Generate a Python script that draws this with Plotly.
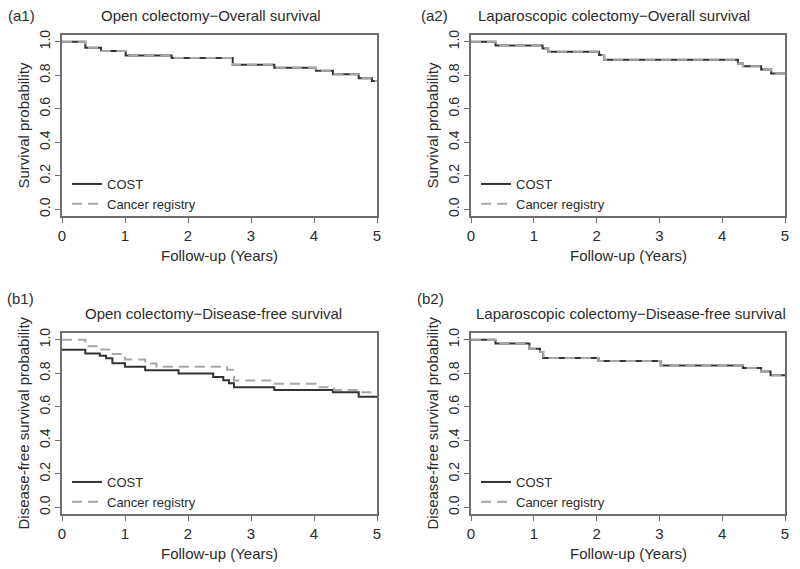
import plotly.graph_objects as go

# ---------------- data ----------------
x_ticks = [0, 1, 2, 3, 4, 5]
y_ticks = [0.0, 0.2, 0.4, 0.6, 0.8, 1.0]

# (a1) Open colectomy - Overall survival
a1_time = [0, 0.37, 0.62, 1.01, 1.74, 2.71, 3.37, 4.03, 4.30, 4.71, 4.92, 5.0]
a1_cost = [1.0, 0.964, 0.944, 0.918, 0.903, 0.862, 0.845, 0.827, 0.806, 0.782, 0.765, 0.765]
a1_registry = [1.0, 0.964, 0.944, 0.918, 0.903, 0.862, 0.845, 0.827, 0.806, 0.782, 0.765, 0.765]

# (a2) Laparoscopic colectomy - Overall survival
a2_time = [0, 0.39, 1.14, 1.23, 2.04, 2.12, 4.25, 4.33, 4.62, 4.78, 5.0]
a2_cost = [1.0, 0.977, 0.96, 0.94, 0.92, 0.893, 0.87, 0.853, 0.834, 0.81, 0.81]
a2_registry = [1.0, 0.977, 0.96, 0.94, 0.92, 0.893, 0.87, 0.853, 0.834, 0.81, 0.81]

# (b1) Open colectomy - Disease-free survival
b1_cost_time = [0, 0.37, 0.60, 0.70, 0.80, 1.00, 1.32, 1.85, 2.40, 2.56, 2.65, 2.73, 3.37, 4.30, 4.71, 5.0]
b1_cost = [0.94, 0.918, 0.905, 0.89, 0.86, 0.838, 0.818, 0.798, 0.778, 0.758, 0.74, 0.717, 0.70, 0.686, 0.66, 0.66]
b1_reg_time = [0, 0.37, 0.57, 0.78, 1.0, 1.32, 1.50, 2.62, 2.73, 3.37, 4.03, 4.32, 4.71, 5.0]
b1_registry = [1.0, 0.961, 0.941, 0.915, 0.882, 0.858, 0.838, 0.82, 0.757, 0.737, 0.717, 0.70, 0.686, 0.686]

# (b2) Laparoscopic colectomy - Disease-free survival
b2_time = [0, 0.39, 0.93, 1.10, 1.15, 2.03, 3.02, 4.33, 4.62, 4.77, 5.0]
b2_cost = [1.0, 0.978, 0.946, 0.927, 0.891, 0.873, 0.846, 0.831, 0.811, 0.788, 0.788]
b2_registry = [1.0, 0.978, 0.946, 0.927, 0.891, 0.873, 0.846, 0.831, 0.811, 0.788, 0.788]

titles = ["Open colectomy\u2212Overall survival",
          "Laparoscopic colectomy\u2212Overall survival",
          "Open colectomy\u2212Disease-free survival",
          "Laparoscopic colectomy\u2212Disease-free survival"]
panel_labels = ["(a1)", "(a2)", "(b1)", "(b2)"]
y_titles = ["Survival probability", "Survival probability",
            "Disease-free survival probability", "Disease-free survival probability"]
x_title = "Follow-up (Years)"
series_names = ["COST", "Cancer registry"]

# ---------------- styling ----------------
W, H = 800, 569
FONT = "Liberation Sans, Arial, Helvetica, sans-serif"
TXT = "#2b2b2b"
AX = "#6e6e6e"
COST_COLOR = "#333333"
REG_COLOR = "#a8a8a8"

def px_x(p):
    return p / W

def px_y(p):
    return 1 - p / H

# panel boxes (pixels)
boxes = [
    (62, 377, 35, 216),
    (471, 785, 35, 216),
    (62, 377, 333, 514),
    (471, 785, 333, 514),
]

panels = [
    (a1_time, a1_cost, a1_time, a1_registry),
    (a2_time, a2_cost, a2_time, a2_registry),
    (b1_cost_time, b1_cost, b1_reg_time, b1_registry),
    (b2_time, b2_cost, b2_time, b2_registry),
]

fig = go.Figure()
layout = dict(
    template="none",
    width=W, height=H,
    margin=dict(l=0, r=0, t=0, b=0, pad=0, autoexpand=False),
    paper_bgcolor="white", plot_bgcolor="white",
    font=dict(family=FONT, color=TXT, size=14),
    showlegend=True,
)

annotations = []
legend_names = ["legend", "legend2", "legend3", "legend4"]

for i, ((tc, vc, tr, vr), (l, r, t, b)) in enumerate(zip(panels, boxes)):
    k = "" if i == 0 else str(i + 1)
    xa, ya = "x" + k, "y" + k
    lg = legend_names[i]
    fig.add_trace(go.Scatter(x=tc, y=vc, mode="lines", line=dict(color=COST_COLOR, width=2, shape="hv"),
                             name=series_names[0], xaxis=xa, yaxis=ya, legend=lg))
    fig.add_trace(go.Scatter(x=tr, y=vr, mode="lines",
                             line=dict(color=REG_COLOR, width=2, shape="hv", dash="10px,6px"),
                             name=series_names[1], xaxis=xa, yaxis=ya, legend=lg))
    layout["xaxis" + k] = dict(
        domain=[px_x(l), px_x(r)], range=[0, 5], anchor=ya, automargin=False,
        tickvals=x_ticks, ticks="outside", ticklen=5, tickcolor=AX, tickwidth=1.2,
        showline=True, linecolor=AX, linewidth=1.5, mirror=True,
        showgrid=False, zeroline=False,
        tickfont=dict(size=15, color=TXT, family=FONT),
    )
    layout["yaxis" + k] = dict(
        domain=[px_y(b), px_y(t)], range=[-0.04, 1.04], anchor=xa, automargin=False,
        tickvals=y_ticks, tickformat=".1f", ticks="outside", ticklen=5, tickcolor=AX, tickwidth=1.2,
        showline=True, linecolor=AX, linewidth=1.5, mirror=True,
        showgrid=False, zeroline=False, tickangle=-90,
        tickfont=dict(size=14, color=TXT, family=FONT),
    )
    layout[lg] = dict(
        x=px_x(l + 5), y=px_y(b - 47), xanchor="left", yanchor="top",
        bgcolor="rgba(0,0,0,0)", font=dict(size=13, color=TXT, family=FONT),
        tracegroupgap=0, itemwidth=30,
    )
    # x axis title
    annotations.append(dict(text=x_title, x=px_x((l + r) / 2), y=px_y(b + 39), xref="paper", yref="paper",
                            showarrow=False, font=dict(size=15, color=TXT), xanchor="center", yanchor="middle"))
    # y axis title
    annotations.append(dict(text=y_titles[i], x=px_x(l - 39), y=px_y((t + b) / 2), xref="paper", yref="paper",
                            showarrow=False, textangle=-90, font=dict(size=15, color=TXT),
                            xanchor="center", yanchor="middle"))

title_pos = [(211, 15), (614, 15), (213, 313), (631, 313)]
label_pos = [(21, 15), (435, 15), (20, 298), (431, 298)]
for i in range(4):
    annotations.append(dict(text=titles[i], x=px_x(title_pos[i][0]), y=px_y(title_pos[i][1]),
                            xref="paper", yref="paper", showarrow=False,
                            font=dict(size=15, color=TXT), xanchor="center", yanchor="middle"))
    annotations.append(dict(text=panel_labels[i], x=px_x(label_pos[i][0]), y=px_y(label_pos[i][1]),
                            xref="paper", yref="paper", showarrow=False,
                            font=dict(size=15, color=TXT), xanchor="center", yanchor="middle"))

layout["annotations"] = annotations
fig.update_layout(**layout)
fig.write_html("out.html", config={"displayModeBar": False},
               post_script="document.body.style.margin='0px';document.body.style.overflow='hidden';")
